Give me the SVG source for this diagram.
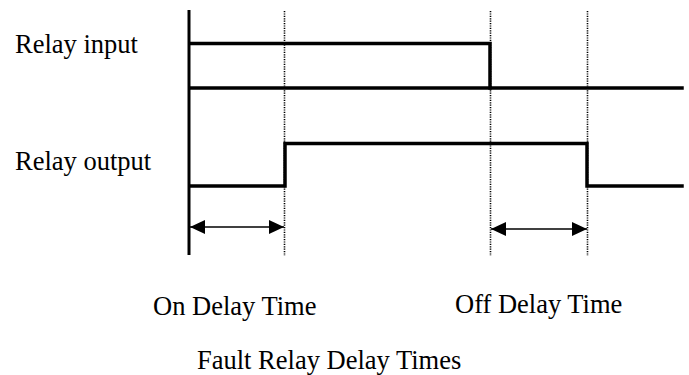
<svg xmlns="http://www.w3.org/2000/svg" width="689" height="375" viewBox="0 0 689 375">
<style>
.t{font-family:"Liberation Serif","Times New Roman",serif;font-size:26.5px;fill:#000}
.sig{fill:none;stroke:#000;stroke-width:3.5;stroke-linecap:square}
.dot{fill:none;stroke:#000;stroke-width:1.6;stroke-dasharray:1.2 1.2}
.dim{fill:none;stroke:#000;stroke-width:1.5}
</style>
<defs>
<marker id="ah" viewBox="0 0 15 14" refX="15" refY="7" markerWidth="15" markerHeight="14" markerUnits="userSpaceOnUse" orient="auto-start-reverse">
<path d="M0,0 L15,7 L0,14 Z" fill="#000"/>
</marker>
</defs>
<g id="labels">
<text class="t" x="15" y="53">Relay input</text>
<text class="t" x="15" y="170">Relay output</text>
<text class="t" x="153" y="315">On Delay Time</text>
<text class="t" x="455" y="313">Off Delay Time</text>
<text class="t" x="197" y="369">Fault Relay Delay Times</text>
</g>
<g id="axis">
<line x1="189" y1="10" x2="189" y2="255" stroke="#000" stroke-width="3"/>
</g>
<g id="guides">
<line class="dot" x1="284.5" y1="11" x2="284.5" y2="256"/>
<line class="dot" x1="490.5" y1="11" x2="490.5" y2="256"/>
<line class="dot" x1="587.5" y1="11" x2="587.5" y2="256"/>
</g>
<g id="relay-input">
<polyline class="sig" points="190,43.5 490,43.5 490,88 682,88" stroke-linecap="butt"/>
<line class="sig" x1="190" y1="88" x2="490" y2="88" stroke-linecap="butt"/>
</g>
<g id="relay-output">
<polyline class="sig" points="190,186 285,186 285,143.5 587,143.5 587,186 682,186" stroke-linecap="butt"/>
</g>
<g id="connectors">
<line class="dim" x1="190" y1="227" x2="284" y2="227" marker-start="url(#ah)" marker-end="url(#ah)"/>
<line class="dim" x1="491" y1="229" x2="587" y2="229" marker-start="url(#ah)" marker-end="url(#ah)"/>
</g>
</svg>
